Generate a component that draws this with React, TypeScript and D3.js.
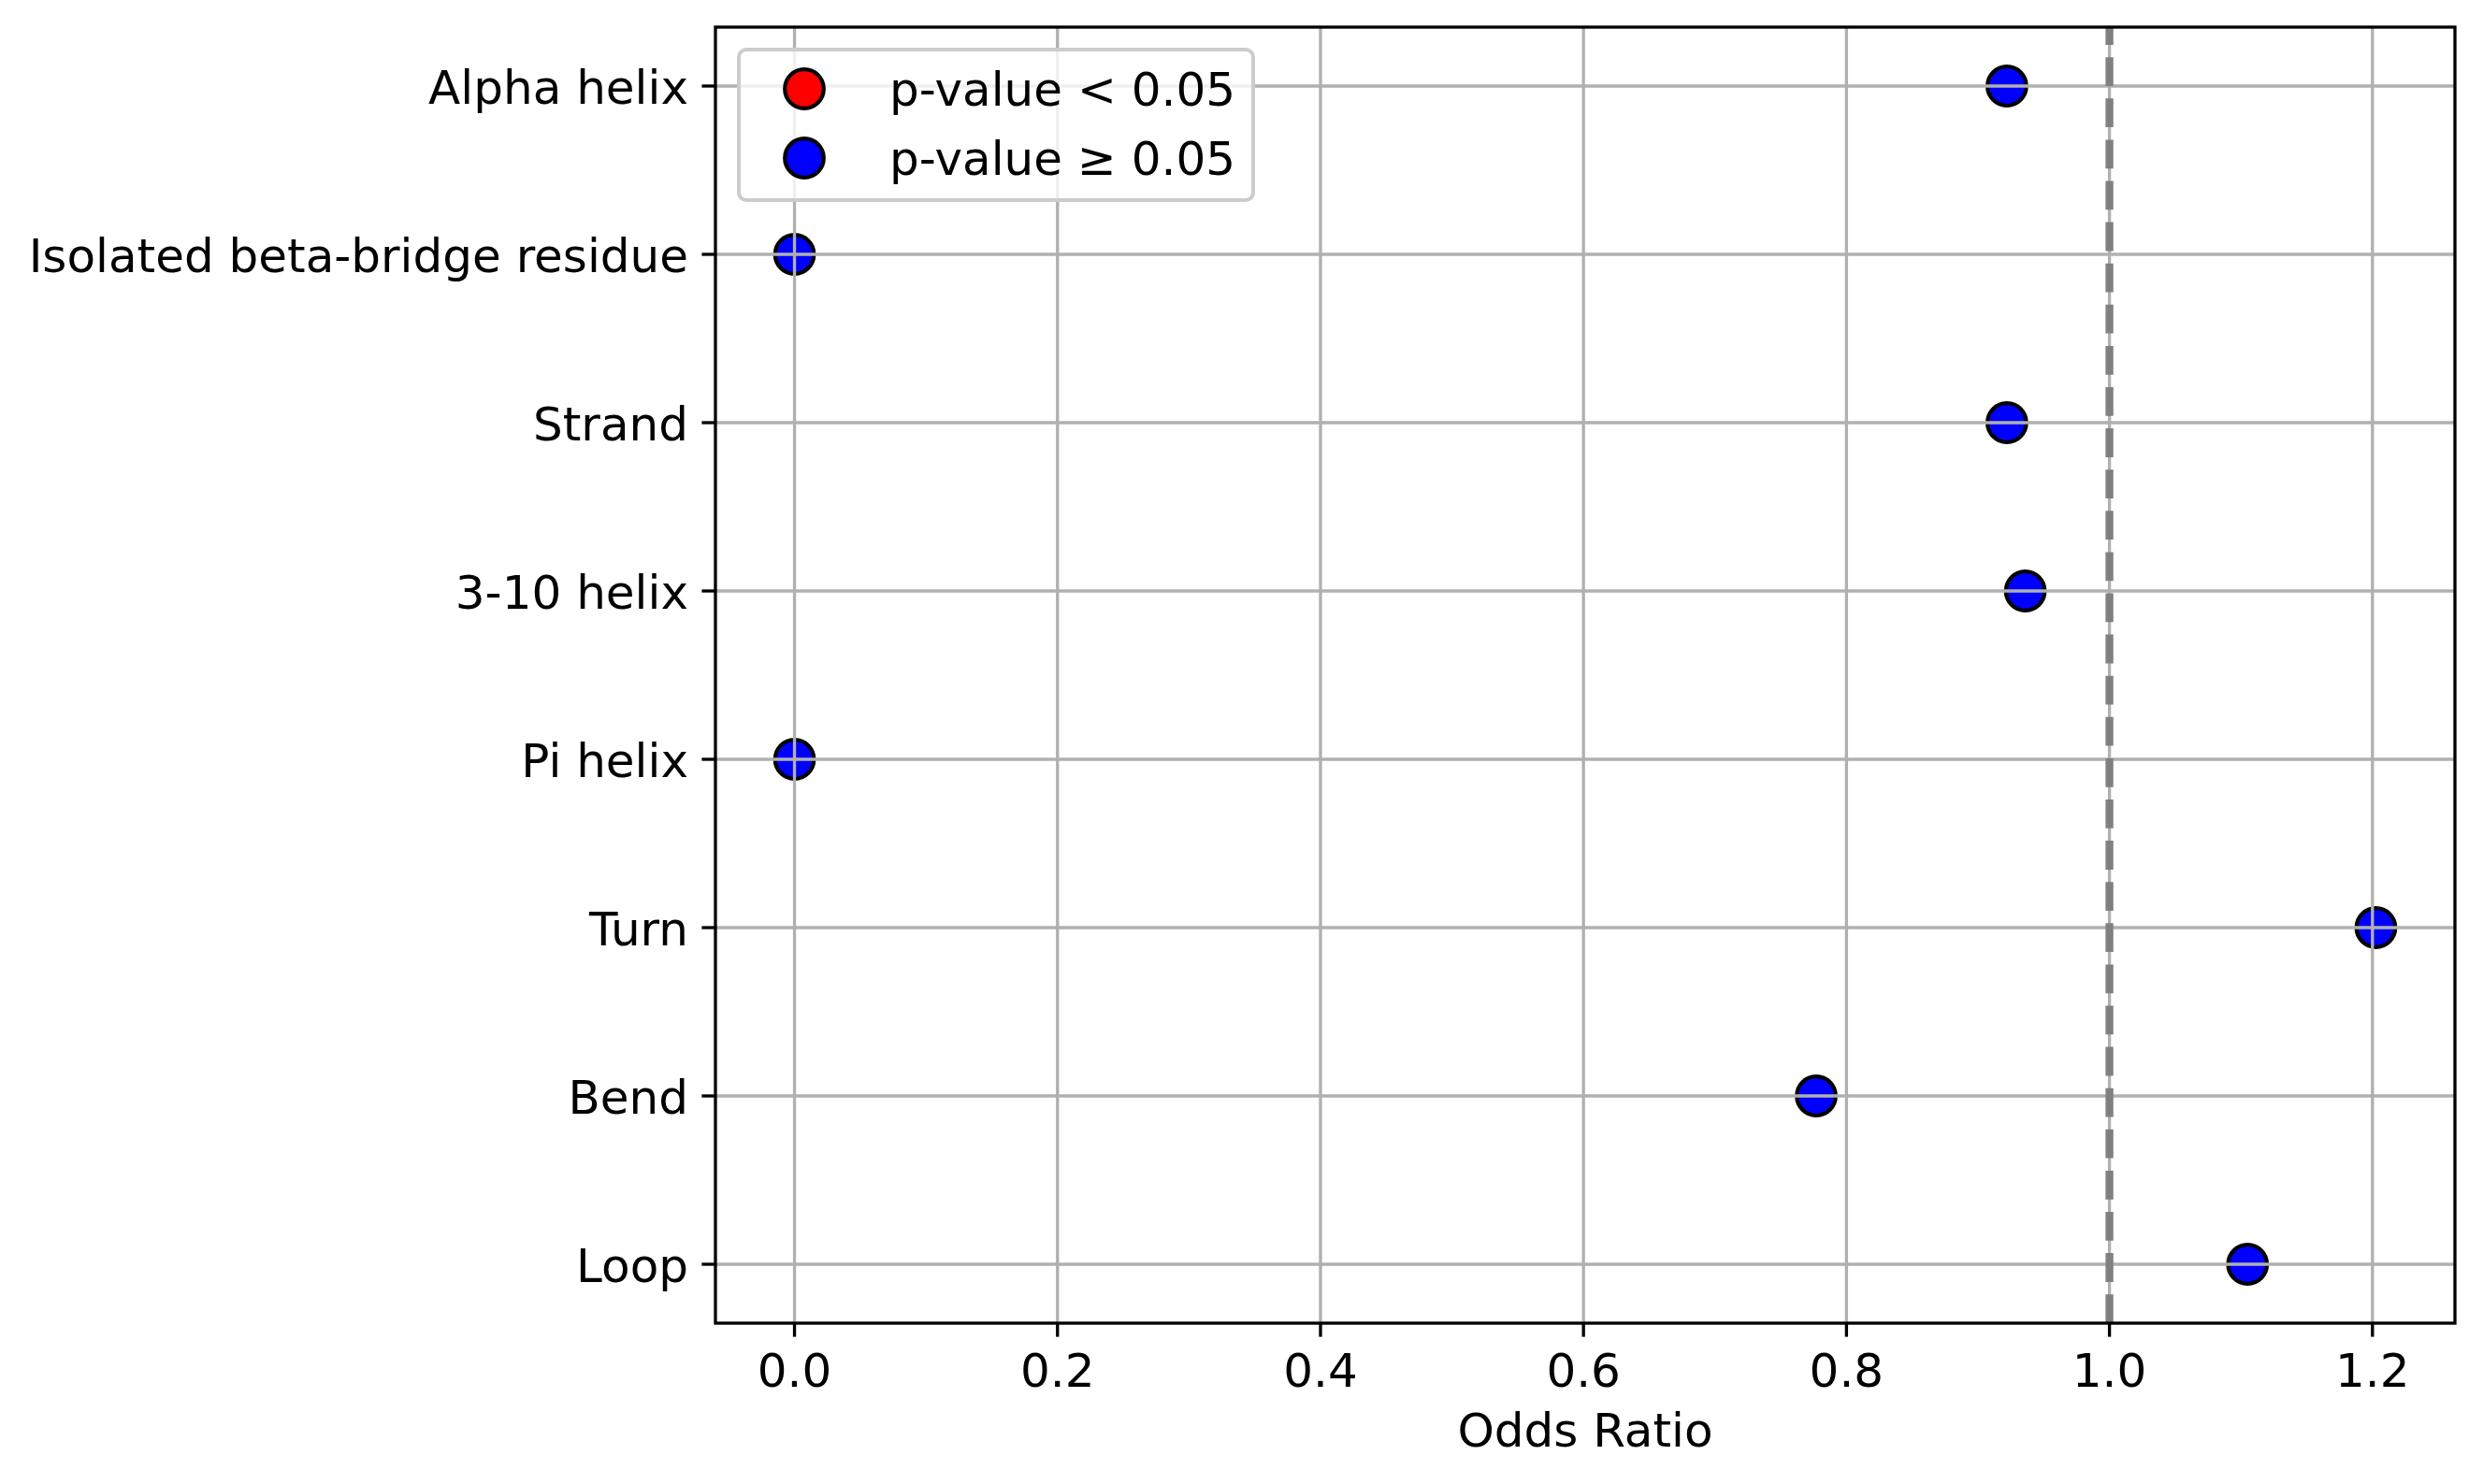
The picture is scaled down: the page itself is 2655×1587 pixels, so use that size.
import React, { useEffect } from 'react';
import * as d3 from 'd3';

const categories = [
  'Alpha helix',
  'Isolated beta-bridge residue',
  'Strand',
  '3-10 helix',
  'Pi helix',
  'Turn',
  'Bend',
  'Loop',
];
const oddsRatios = [0.922, 0.0, 0.922, 0.936, 0.0, 1.2026, 0.777, 1.105];
const significant = [false, false, false, false, false, false, false, false];
const xTicks = [0, 0.2, 0.4, 0.6, 0.8, 1.0, 1.2];
const legendLabels = ['p-value < 0.05', 'p-value \u2265 0.05'];
const legendColors = ['red', 'blue'];

const W = 2655;
const H = 1587;
const FONT = 'DejaVu Sans';
const FS = 50;
const LW = 3.33;

const App: React.FC = () => {
  useEffect(() => {
    document.body.style.margin = '0';
  }, []);

  const left = 765;
  const right = 2625;
  const top = 29;
  const bottom = 1415;

  const maxV = d3.max(oddsRatios) as number;
  const minV = d3.min(oddsRatios) as number;
  const pad = (maxV - minV) * 0.05;
  const x = d3.scaleLinear().domain([minV - pad, maxV + pad]).range([left, right]);
  const n = categories.length;
  const y = d3
    .scaleLinear()
    .domain([-0.35, n - 1 + 0.35])
    .range([top, bottom]);

  const r = 20.8;

  return (
    <svg width={W} height={H} style={{ display: 'block', background: 'white' }} fontFamily={FONT}>
      <rect x={0} y={0} width={W} height={H} fill="white" />

      {/* points */}
      {oddsRatios.map((v, i) => (
        <circle
          key={'p' + i}
          cx={x(v)}
          cy={y(i)}
          r={r}
          fill={significant[i] ? 'red' : 'blue'}
          stroke="black"
          strokeWidth={4.17}
        />
      ))}

      {/* grid above points, like matplotlib */}
      <g stroke="#b0b0b0" strokeWidth={LW}>
        {xTicks.map((t) => (
          <line key={'gx' + t} x1={x(t)} x2={x(t)} y1={top} y2={bottom} />
        ))}
        {categories.map((c, i) => (
          <line key={'gy' + c} x1={left} x2={right} y1={y(i)} y2={y(i)} />
        ))}
      </g>

      {/* reference line at OR = 1 */}
      <line
        x1={x(1)}
        x2={x(1)}
        y1={bottom}
        y2={top}
        stroke="gray"
        strokeWidth={8.33}
        strokeDasharray="30.8 13.3"
      />

      {/* spines */}
      <rect
        x={left}
        y={top}
        width={right - left}
        height={bottom - top}
        fill="none"
        stroke="black"
        strokeWidth={LW}
      />

      {/* x axis */}
      <g>
        {xTicks.map((t) => (
          <g key={'xt' + t}>
            <line x1={x(t)} x2={x(t)} y1={bottom} y2={bottom + 14.6} stroke="black" strokeWidth={LW} />
            <text x={x(t)} y={1483} fontSize={FS} textAnchor="middle" fill="black">
              {d3.format('.1f')(t)}
            </text>
          </g>
        ))}
        <text x={(left + right) / 2} y={1547} fontSize={FS} textAnchor="middle" fill="black">
          Odds Ratio
        </text>
      </g>

      {/* y axis */}
      <g>
        {categories.map((c, i) => (
          <g key={'yt' + c}>
            <line x1={left - 14.6} x2={left} y1={y(i)} y2={y(i)} stroke="black" strokeWidth={LW} />
            <text x={736} y={y(i) + 19} fontSize={FS} textAnchor="end" fill="black">
              {c}
            </text>
          </g>
        ))}
      </g>

      {/* legend */}
      <g>
        <rect
          x={790}
          y={53}
          width={550}
          height={161}
          rx={8}
          fill="white"
          fillOpacity={0.8}
          stroke="#cccccc"
          strokeWidth={4}
        />
        {legendLabels.map((lab, i) => {
          const cy = 95 + i * 74;
          return (
            <g key={'lg' + i}>
              <circle cx={860} cy={cy} r={r} fill={legendColors[i]} stroke="black" strokeWidth={4.17} />
              <text x={951} y={cy + 18} fontSize={FS} fill="black">
                {lab}
              </text>
            </g>
          );
        })}
      </g>
    </svg>
  );
};

export default App;
